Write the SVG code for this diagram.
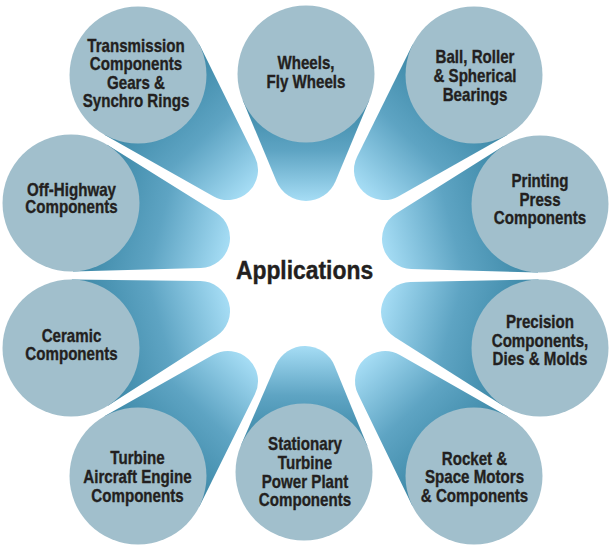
<svg xmlns="http://www.w3.org/2000/svg" width="611" height="548" viewBox="0 0 611 548">
<defs>
<linearGradient id="tg" x1="0" y1="0" x2="1" y2="0">
<stop offset="0" stop-color="#3a86a5"/>
<stop offset="0.5" stop-color="#5ea4c3"/>
<stop offset="1" stop-color="#a6ddf5"/>
</linearGradient>
<path id="t131" d="M20.15,65.47 L139.72,28.67 A30,30 0 0 0 139.72,-28.67 L20.15,-65.47 Z"/>
</defs>
<style>
.tail{fill:url(#tg)}
.circ{fill:#a1bfcc}
.lbl{font-family:"Liberation Sans",Arial,sans-serif;font-weight:bold;font-size:18px;fill:#231f20;stroke:#231f20;stroke-width:0.35px;text-anchor:middle}
.title{font-family:"Liberation Sans",Arial,sans-serif;font-weight:bold;font-size:26px;fill:#231f20;stroke:#231f20;stroke-width:0.4px;text-anchor:middle}
</style>
<rect width="611" height="548" fill="#ffffff"/>
<g id="connectors">
<use href="#t131" class="tail" transform="translate(138,75) rotate(46.55)"/>
<path class="tail" transform="translate(306,74) rotate(90)" d="M26.32,63.24 L107.29,29.54 A32,32 0 0 0 107.29,-29.54 L26.32,-63.24 Z"/>
<use href="#t131" class="tail" transform="translate(474,75) rotate(133.45)"/>
<path class="tail" transform="translate(540,204) rotate(164.71)" d="M19.87,65.55 L141.4,28.71 A30,30 0 0 0 141.4,-28.71 L19.87,-65.55 Z"/>
<path class="tail" transform="translate(540,348) rotate(195.59)" d="M19.7,65.61 L142.53,28.73 A30,30 0 0 0 142.53,-28.73 L19.7,-65.61 Z"/>
<path class="tail" transform="translate(474,476) rotate(226.87)" d="M20.26,65.44 L139.04,28.66 A30,30 0 0 0 139.04,-28.66 L20.26,-65.44 Z"/>
<path class="tail" transform="translate(304,472) rotate(-89.4)" d="M26.6,63.12 L106.43,29.49 A32,32 0 0 0 106.43,-29.49 L26.6,-63.12 Z"/>
<use href="#t131" class="tail" transform="translate(138,476) rotate(-46.55)"/>
<path class="tail" transform="translate(71,348) rotate(-16)" d="M19.65,65.62 L142.81,28.74 A30,30 0 0 0 142.81,-28.74 L19.65,-65.62 Z"/>
<path class="tail" transform="translate(71,203) rotate(15.18)" d="M19.73,65.6 L142.3,28.73 A30,30 0 0 0 142.3,-28.73 L19.73,-65.6 Z"/>
</g>
<g id="n-transmission">
<circle class="circ" cx="138" cy="75" r="68.5"/>
<text class="lbl" transform="matrix(0.84 0 0 1 136 0)"><tspan x="0" y="51.8">Transmission</tspan><tspan x="0" y="70.2">Components</tspan><tspan x="0" y="88.6">Gears &amp;</tspan><tspan x="0" y="107">Synchro Rings</tspan></text>
</g>
<g id="n-wheels">
<circle class="circ" cx="306" cy="74" r="68.5"/>
<text class="lbl" transform="matrix(0.84 0 0 1 306 0)"><tspan x="0" y="68.8">Wheels,</tspan><tspan x="0" y="87.6">Fly Wheels</tspan></text>
</g>
<g id="n-bearings">
<circle class="circ" cx="474" cy="75" r="68.5"/>
<text class="lbl" transform="matrix(0.84 0 0 1 475 0)"><tspan x="0" y="63.3">Ball, Roller</tspan><tspan x="0" y="82.2">&amp; Spherical</tspan><tspan x="0" y="101">Bearings</tspan></text>
</g>
<g id="n-printing">
<circle class="circ" cx="540" cy="204" r="68.5"/>
<text class="lbl" transform="matrix(0.84 0 0 1 540 0)"><tspan x="0" y="187.3">Printing</tspan><tspan x="0" y="205.7">Press</tspan><tspan x="0" y="224">Components</tspan></text>
</g>
<g id="n-precision">
<circle class="circ" cx="540" cy="348" r="68.5"/>
<text class="lbl" transform="matrix(0.84 0 0 1 540 0)"><tspan x="0" y="328">Precision</tspan><tspan x="0" y="346.7">Components,</tspan><tspan x="0" y="365.5">Dies &amp; Molds</tspan></text>
</g>
<g id="n-rocket">
<circle class="circ" cx="474" cy="476" r="68.5"/>
<text class="lbl" transform="matrix(0.84 0 0 1 474.5 0)"><tspan x="0" y="464.7">Rocket &amp;</tspan><tspan x="0" y="483.4">Space Motors</tspan><tspan x="0" y="502.2">&amp; Components</tspan></text>
</g>
<g id="n-stationary">
<circle class="circ" cx="304" cy="472" r="68.5"/>
<text class="lbl" transform="matrix(0.84 0 0 1 305 0)"><tspan x="0" y="450">Stationary</tspan><tspan x="0" y="468.8">Turbine</tspan><tspan x="0" y="487.6">Power Plant</tspan><tspan x="0" y="506.4">Components</tspan></text>
</g>
<g id="n-turbine">
<circle class="circ" cx="138" cy="476" r="68.5"/>
<text class="lbl" transform="matrix(0.84 0 0 1 137.5 0)"><tspan x="0" y="464">Turbine</tspan><tspan x="0" y="482.8">Aircraft Engine</tspan><tspan x="0" y="501.6">Components</tspan></text>
</g>
<g id="n-ceramic">
<circle class="circ" cx="71" cy="348" r="68.5"/>
<text class="lbl" transform="matrix(0.84 0 0 1 71.5 0)"><tspan x="0" y="342.3">Ceramic</tspan><tspan x="0" y="360">Components</tspan></text>
</g>
<g id="n-offhighway">
<circle class="circ" cx="71" cy="203" r="68.5"/>
<text class="lbl" transform="matrix(0.84 0 0 1 71.5 0)"><tspan x="0" y="195.7">Off-Highway</tspan><tspan x="0" y="213.3">Components</tspan></text>
</g>
<g id="n-center">
<text class="title" transform="matrix(0.88 0 0 1 304.5 0)" x="0" y="279.3">Applications</text>
</g>
</svg>
